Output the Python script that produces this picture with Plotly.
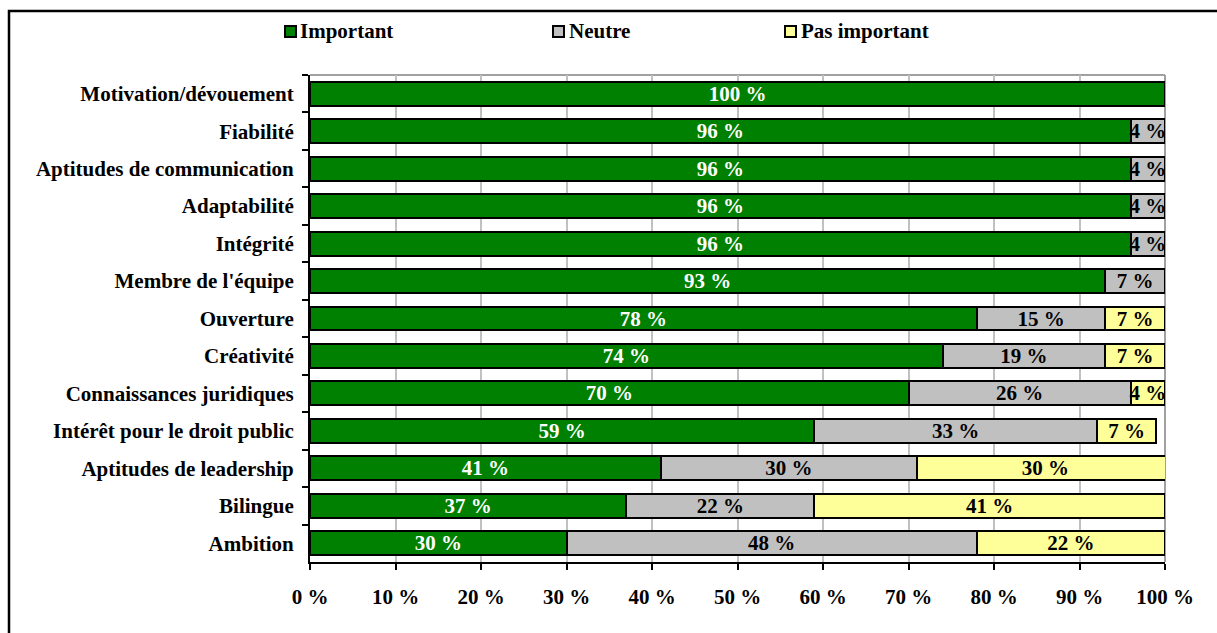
import plotly.graph_objects as go

# Survey: importance of each quality (percent of respondents)
categories = [
    "Motivation/dévouement",
    "Fiabilité",
    "Aptitudes de communication",
    "Adaptabilité",
    "Intégrité",
    "Membre de l'équipe",
    "Ouverture",
    "Créativité",
    "Connaissances juridiques",
    "Intérêt pour le droit public",
    "Aptitudes de leadership",
    "Bilingue",
    "Ambition",
]
important = [100, 96, 96, 96, 96, 93, 78, 74, 70, 59, 41, 37, 30]
neutre = [None, 4, 4, 4, 4, 7, 15, 19, 26, 33, 30, 22, 48]
pas_important = [None, None, None, None, None, None, 7, 7, 4, 7, 30, 41, 22]

series_names = ["Important", "Neutre", "Pas important"]
series_values = [important, neutre, pas_important]
fill_colors = ["#008000", "#c0c0c0", "#ffff99"]
text_colors = ["white", "black", "black"]
x_ticks = list(range(0, 101, 10))
x_tick_labels = [f"{t} %" for t in x_ticks]

W, H = 1217, 633
L, R, T, B = 310, 1165, 75, 562  # plot area in pixels
FONT = "Liberation Serif"
FS = 21


def px_x(p):
    return (p - L) / (R - L)


def px_y(p):
    return (B - p) / (B - T)


fig = go.Figure()
for name, vals, fc, tc in zip(series_names, series_values, fill_colors, text_colors):
    fig.add_trace(go.Bar(
        y=categories,
        x=vals,
        name=name,
        orientation="h",
        marker=dict(color=fc, line=dict(color="black", width=2)),
        text=[f"{v} %" if v else "" for v in vals],
        textposition="inside",
        insidetextanchor="middle",
        constraintext="none",
        textangle=0,
        insidetextfont=dict(family=FONT, size=FS, color=tc, weight="bold"),
        cliponaxis=True,
        showlegend=False,
    ))

shapes = [
    # outer frame
    dict(type="rect", xref="paper", yref="paper",
         x0=px_x(9), x1=px_x(W + 20), y0=px_y(H + 20), y1=px_y(11),
         line=dict(color="black", width=2.5), layer="below"),
    # grey top and right edges of plot area
    dict(type="line", xref="paper", yref="paper", x0=0, x1=1, y0=1, y1=1,
         line=dict(color="#a0a0a0", width=2), layer="below"),
    dict(type="line", xref="paper", yref="paper", x0=1, x1=1, y0=0, y1=1,
         line=dict(color="#a0a0a0", width=2), layer="below"),
]
annotations = []

# legend row
legend_pos = [(285, 298), (553, 567), (785, 799)]
for (sx, tx), name, fc in zip(legend_pos, series_names, fill_colors):
    shapes.append(dict(type="rect", xref="paper", yref="paper",
                       x0=px_x(sx), x1=px_x(sx + 11), y0=px_y(37), y1=px_y(26),
                       fillcolor=fc, line=dict(color="black", width=2)))
    annotations.append(dict(xref="paper", yref="paper", x=px_x(tx), y=px_y(31),
                            text=name, showarrow=False, xanchor="left", yanchor="middle",
                            font=dict(family=FONT, size=FS, color="black", weight="bold")))

fig.update_layout(
    width=W, height=H,
    margin=dict(l=L, r=W - R, t=T, b=H - B, pad=0),
    barmode="stack",
    bargap=0.36,
    paper_bgcolor="white",
    plot_bgcolor="white",
    font=dict(family=FONT, size=FS, color="black", weight="bold"),
    shapes=shapes,
    annotations=annotations,
    xaxis=dict(
        range=[0, 100],
        tickvals=x_ticks,
        ticktext=x_tick_labels,
        showgrid=True, gridcolor="#c0c0c0", gridwidth=2,
        showline=True, linecolor="black", linewidth=2,
        ticks="outside", ticklen=6, tickwidth=2, tickcolor="black",
        ticklabelstandoff=9,
        zeroline=False,
        tickfont=dict(family=FONT, size=FS, color="black", weight="bold"),
    ),
    yaxis=dict(
        autorange="reversed",
        showgrid=False,
        showline=True, linecolor="black", linewidth=2,
        ticks="outside", ticklen=6, tickwidth=2, tickcolor="black",
        tickson="boundaries",
        ticklabelstandoff=10,
        tickfont=dict(family=FONT, size=FS, color="black", weight="bold"),
    ),
)

fig.write_html("out.html")
